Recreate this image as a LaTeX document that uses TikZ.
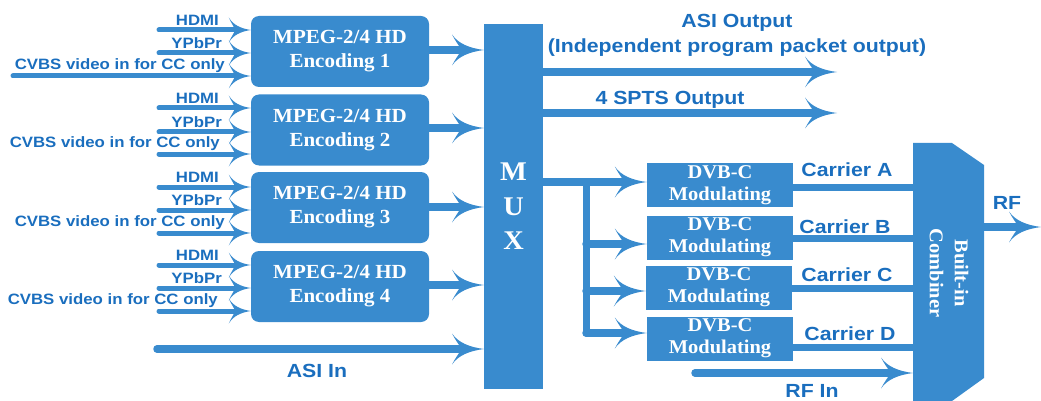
\documentclass[tikz,border=0pt]{standalone}
\usepackage{fontspec}
\setmainfont[FakeStretch=1.05]{Liberation Serif}
\setsansfont[FakeStretch=1.12]{Liberation Sans}
\usetikzlibrary{arrows.meta,positioning}

% barbed arrow head with concave wings
\pgfdeclarearrow{
  name = Barb,
  parameters = {\the\pgfarrowlength,\the\pgfarrowwidth},
  setup code = {
    \pgfarrowssettipend{0pt}
    \pgfarrowssetlineend{-0.55\pgfarrowlength}
    \pgfarrowssetbackend{-\pgfarrowlength}
    \pgfarrowssetvisualbackend{-0.7\pgfarrowlength}
    \pgfarrowshullpoint{0pt}{0pt}
    \pgfarrowshullpoint{-\pgfarrowlength}{0.5\pgfarrowwidth}
    \pgfarrowshullpoint{-\pgfarrowlength}{-0.5\pgfarrowwidth}
    \pgfarrowssavethe\pgfarrowlength
    \pgfarrowssavethe\pgfarrowwidth
  },
  drawing code = {
    \pgfpathmoveto{\pgfpointorigin}
    \pgfpathcurveto{\pgfpoint{-0.45\pgfarrowlength}{0.06\pgfarrowwidth}}
                   {\pgfpoint{-0.8\pgfarrowlength}{0.2\pgfarrowwidth}}
                   {\pgfpoint{-\pgfarrowlength}{0.5\pgfarrowwidth}}
    \pgfpathcurveto{\pgfpoint{-0.85\pgfarrowlength}{0.2\pgfarrowwidth}}
                   {\pgfpoint{-0.72\pgfarrowlength}{0.08\pgfarrowwidth}}
                   {\pgfpoint{-0.72\pgfarrowlength}{0pt}}
    \pgfpathcurveto{\pgfpoint{-0.72\pgfarrowlength}{-0.08\pgfarrowwidth}}
                   {\pgfpoint{-0.85\pgfarrowlength}{-0.2\pgfarrowwidth}}
                   {\pgfpoint{-\pgfarrowlength}{-0.5\pgfarrowwidth}}
    \pgfpathcurveto{\pgfpoint{-0.8\pgfarrowlength}{-0.2\pgfarrowwidth}}
                   {\pgfpoint{-0.45\pgfarrowlength}{-0.06\pgfarrowwidth}}
                   {\pgfpointorigin}
    \pgfpathclose
    \pgfusepathqfill
  },
  defaults = {length = 30pt, width = 30pt}
}

\definecolor{boxblue}{RGB}{57,139,206}
\definecolor{labelblue}{RGB}{26,110,190}

\tikzset{
  encbox/.style={fill=boxblue, rounded corners=8pt, minimum width=178pt,
    minimum height=71pt, inner sep=0pt, text=white, align=center,
    font=\bfseries\fontsize{20}{24}\selectfont},
  modbox/.style={fill=boxblue, minimum width=146pt, minimum height=44pt,
    inner sep=0pt, text=white, align=center,
    font=\bfseries\fontsize{19.5}{22}\selectfont},
  inlabel/.style={text=labelblue, inner sep=0pt,
    font=\sffamily\bfseries\fontsize{15}{17}\selectfont},
  outlabel/.style={text=labelblue, inner sep=0pt, align=center,
    font=\sffamily\bfseries\fontsize{19}{25}\selectfont},
  inarrow/.style={draw=boxblue, line width=5pt, line cap=round,
    -{Barb[length=22pt,width=25pt]}},
  bigarrow/.style={draw=boxblue, line width=7.5pt, line cap=round,
    -{Barb[length=32pt,width=31pt]}},
  wire/.style={draw=boxblue, line width=7pt, line cap=round},
}

\begin{document}
\begin{tikzpicture}[x=1pt,y=-1pt]
\useasboundingbox (0,0) rectangle (1041,401);

% ---------- encoders ----------
\node[encbox] (e1) at (340,51.5)  {MPEG-2/4 HD\\Encoding 1};
\node[encbox] (e2) at (340,130)   {MPEG-2/4 HD\\Encoding 2};
\node[encbox] (e3) at (340,207.5) {MPEG-2/4 HD\\Encoding 3};
\node[encbox] (e4) at (340,286.5) {MPEG-2/4 HD\\Encoding 4};

% ---------- multiplexer ----------
\node[fill=boxblue, minimum width=59pt, minimum height=365pt, inner sep=0pt,
      anchor=north west] (mux) at (484,24) {};
\node[text=white, font=\bfseries\fontsize{27}{30}\selectfont] (mM) at (513.5,172) {M};
\node[text=white, font=\bfseries\fontsize{27}{30}\selectfont] (mU) at (513.5,207) {U};
\node[text=white, font=\bfseries\fontsize{27}{30}\selectfont] (mX) at (513.5,241) {X};

% ---------- modulators ----------
\node[modbox] (d1) at (720,185)   {DVB-C\\Modulating};
\node[modbox] (d2) at (720,237.5) {DVB-C\\Modulating};
\node[modbox] (d3) at (719,287.5) {DVB-C\\Modulating};
\node[modbox] (d4) at (720,338.5) {DVB-C\\Modulating};

% ---------- combiner ----------
\coordinate (cb1) at (913,143);
\coordinate (cb2) at (952,143);
\coordinate (cb3) at (984,165);
\coordinate (cb4) at (984,378);
\coordinate (cb5) at (952,401);
\coordinate (cb6) at (913,401);
\fill[boxblue] (cb1) -- (cb2) -- (cb3) -- (cb4) -- (cb5) -- (cb6) -- cycle;
\node[rotate=-90, text=white, align=center, inner sep=0pt,
      font=\bfseries\fontsize{19.5}{25}\selectfont] (comb) at (949,273) {Built-in\\Combiner};

% ---------- encoder inputs ----------
\foreach \e/\ya/\yb/\yc/\xs/\xc in {e1/30/53/76/13/225, e2/108/132/154/159/220,
                                    e3/187/210/233/159/225, e4/265/288/311/159/218}{
  \coordinate (\e h) at (159,\ya);
  \coordinate (\e y) at (159,\yb);
  \coordinate (\e c) at (\xs,\yc);
  \draw[inarrow] (\e h) -- (\e.west |- \e h);
  \draw[inarrow] (\e y) -- (\e.west |- \e y);
  \draw[inarrow] (\e c) -- (\e.west |- \e c);
  \node[inlabel, anchor=east] (\e lh) at (219,\ya-10) {HDMI};
  \node[inlabel, anchor=east] (\e ly) at (222,\yb-10) {YPbPr};
  \node[inlabel, anchor=east] (\e lc) at (\xc,\yc-10) {CVBS video in for CC only};
}

% ---------- encoder outputs ----------
\draw[bigarrow] (e1.east |- 0,50)  -- (mux.west |- 0,50);
\draw[bigarrow] (e2.east |- 0,128) -- (mux.west |- 0,128);
\draw[bigarrow] (e3.east |- 0,207) -- (mux.west |- 0,207);
\draw[bigarrow] (e4.east |- 0,285) -- (mux.west |- 0,285);

% ---------- ASI in ----------
\coordinate (asiin) at (157,349);
\draw[bigarrow] (asiin) -- (mux.west |- asiin);
\node[outlabel] (asiinl) at (317,371) {ASI In};

% ---------- transport stream outputs ----------
\coordinate (asiout) at (837,72);
\coordinate (sptsout) at (837,113);
\draw[bigarrow] (mux.east |- asiout) -- (asiout);
\draw[bigarrow] (mux.east |- sptsout) -- (sptsout);
\node[outlabel] (asil) at (737,23) {ASI Output};
\node[outlabel] (indl) at (737,48) {(Independent program packet output)};
\node[outlabel] (sptsl) at (670,100) {4 SPTS Output};

% ---------- MUX to modulators ----------
\coordinate (bus0) at (586,182);
\coordinate (bus1) at (586,244);
\coordinate (bus2) at (586,291);
\coordinate (bus3) at (586,333);
\draw[wire] (bus0) -- (bus3);
\draw[bigarrow] (mux.east |- bus0) -- (d1.west |- bus0);
\draw[bigarrow] (bus1) -- (d2.west |- bus1);
\draw[bigarrow] (bus2) -- (d3.west |- bus2);
\draw[bigarrow] (bus3) -- (d4.west |- bus3);

% ---------- carriers ----------
\draw[wire] (d1.east |- 0,187) -- (cb1 |- 0,187);
\draw[wire] (d2.east |- 0,238) -- (cb1 |- 0,238);
\draw[wire] (d3.east |- 0,288) -- (cb1 |- 0,288);
\draw[wire] (d4.east |- 0,347) -- (cb1 |- 0,347);
\node[outlabel] (ca) at (847,170) {Carrier A};
\node[outlabel] (cbl) at (845,227) {Carrier B};
\node[outlabel] (cc) at (847,275) {Carrier C};
\node[outlabel] (cd) at (850,334) {Carrier D};

% ---------- RF in / out ----------
\coordinate (rfin) at (695,373);
\draw[bigarrow] (rfin) -- (cb1 |- rfin);
\node[outlabel] (rfinl) at (812,391) {RF In};
\coordinate (rfout) at (1041,227);
\draw[bigarrow] (cb3 |- rfout) -- (rfout);
\node[outlabel] (rfl) at (1007,203) {RF};
\end{tikzpicture}
\end{document}
